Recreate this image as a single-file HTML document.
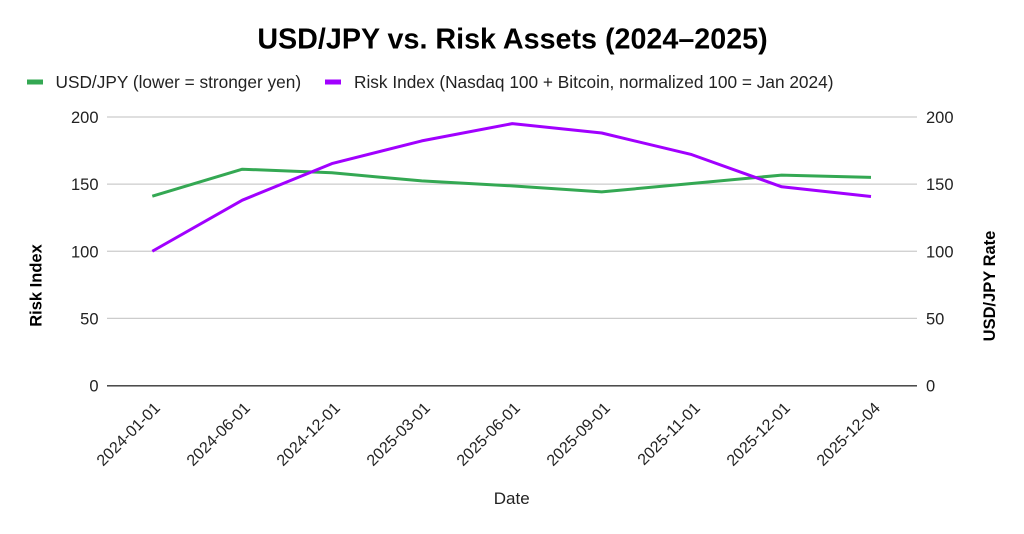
<!DOCTYPE html>
<html>
<head>
<meta charset="utf-8">
<style>
  html, body { margin: 0; padding: 0; background: #ffffff; }
  svg { display: block; }
  text { font-family: "Liberation Sans", Arial, sans-serif; }
</style>
</head>
<body>
<svg width="1024" height="534" viewBox="0 0 1024 534" xmlns="http://www.w3.org/2000/svg">
  <rect width="1024" height="534" fill="#ffffff"/>

  <!-- Title -->
  <text x="512.5" y="48.3" text-anchor="middle" font-size="28.7" font-weight="bold" fill="#000">USD/JPY vs. Risk Assets (2024–2025)</text>

  <!-- Legend -->
  <rect x="27" y="79.5" width="16" height="5" fill="#34a853"/>
  <text x="55.5" y="87.8" font-size="17.25" fill="#222">USD/JPY (lower = stronger yen)</text>
  <rect x="325" y="79.5" width="16" height="5" fill="#a100ff"/>
  <text x="354" y="87.8" font-size="17.25" fill="#222">Risk Index (Nasdaq 100 + Bitcoin, normalized 100 = Jan 2024)</text>

  <!-- Gridlines -->
  <g stroke="#cccccc" stroke-width="1.2">
    <line x1="107" y1="117" x2="917" y2="117"/>
    <line x1="107" y1="184.1" x2="917" y2="184.1"/>
    <line x1="107" y1="251.25" x2="917" y2="251.25"/>
    <line x1="107" y1="318.4" x2="917" y2="318.4"/>
  </g>
  <line x1="107" y1="385.8" x2="917" y2="385.8" stroke="#333333" stroke-width="1.3"/>

  <!-- Left tick labels -->
  <g font-size="16.5" fill="#222" text-anchor="end">
    <text x="98.5" y="123">200</text>
    <text x="98.5" y="190.1">150</text>
    <text x="98.5" y="257.25">100</text>
    <text x="98.5" y="324.4">50</text>
    <text x="98.5" y="391.6">0</text>
  </g>
  <!-- Right tick labels -->
  <g font-size="16.5" fill="#222" text-anchor="start">
    <text x="926" y="123">200</text>
    <text x="926" y="190.1">150</text>
    <text x="926" y="257.25">100</text>
    <text x="926" y="324.4">50</text>
    <text x="926" y="391.6">0</text>
  </g>

  <!-- Axis titles -->
  <text transform="translate(41.5,285.5) rotate(-90)" text-anchor="middle" font-size="16.5" font-weight="bold" fill="#000">Risk Index</text>
  <text transform="translate(995,286) rotate(-90)" text-anchor="middle" font-size="16.5" font-weight="bold" fill="#000">USD/JPY Rate</text>
  <text x="511.7" y="504" text-anchor="middle" font-size="17" fill="#222">Date</text>

  <!-- X tick labels -->
  <g font-size="16" fill="#222" text-anchor="end">
    <text transform="translate(161,409) rotate(-45)">2024-01-01</text>
    <text transform="translate(251,409) rotate(-45)">2024-06-01</text>
    <text transform="translate(341,409) rotate(-45)">2024-12-01</text>
    <text transform="translate(431,409) rotate(-45)">2025-03-01</text>
    <text transform="translate(521,409) rotate(-45)">2025-06-01</text>
    <text transform="translate(611,409) rotate(-45)">2025-09-01</text>
    <text transform="translate(701,409) rotate(-45)">2025-11-01</text>
    <text transform="translate(791,409) rotate(-45)">2025-12-01</text>
    <text transform="translate(881,409) rotate(-45)">2025-12-04</text>
  </g>

  <!-- Series: USD/JPY (green) -->
  <polyline fill="none" stroke="#34a853" stroke-width="3" stroke-linejoin="round"
    points="152.3,196.2 242.3,169.2 331.9,172.8 421.7,180.9 512,185.9 601.7,191.9 691.7,183.5 781.7,175.1 871,177.4"/>

  <!-- Series: Risk Index (purple) -->
  <polyline fill="none" stroke="#a100ff" stroke-width="3" stroke-linejoin="round"
    points="152.3,251.25 242.3,200.2 331.9,163.6 421.7,140.9 512.3,123.6 601.7,133 691.7,154.6 781.7,186.8 871,196.5"/>
</svg>
</body>
</html>
